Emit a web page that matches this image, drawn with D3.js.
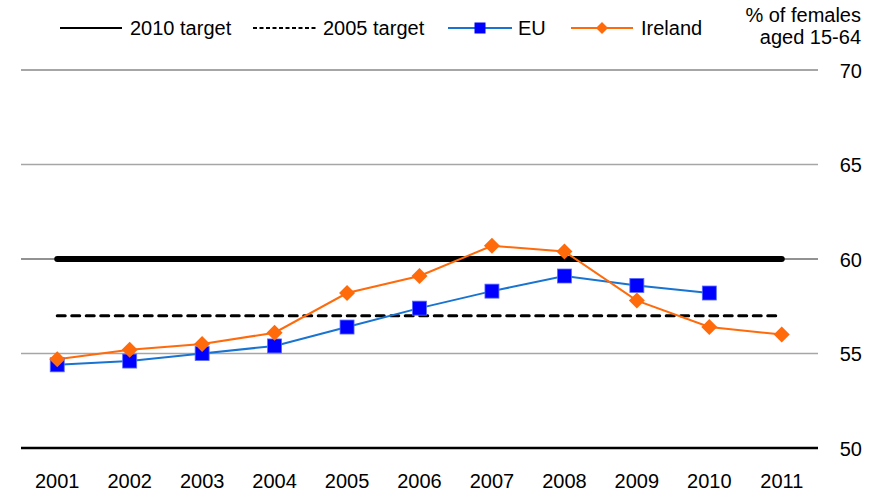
<!DOCTYPE html>
<html><head><meta charset="utf-8">
<script src="https://cdn.jsdelivr.net/npm/d3@7"></script>
<style>
body{margin:0;background:#fff;}
text{font-family:"Liberation Sans",Arial,sans-serif;fill:#000;}
</style></head>
<body>
<svg id="c" width="885" height="493"></svg>
<script>
const years = ["2001","2002","2003","2004","2005","2006","2007","2008","2009","2010","2011"];
const euValues = [54.4, 54.6, 55.0, 55.4, 56.4, 57.4, 58.3, 59.1, 58.6, 58.2, null];
const irelandValues = [54.7, 55.2, 55.5, 56.1, 58.2, 59.1, 60.7, 60.4, 57.8, 56.4, 56.0];
const target2010 = 60;
const target2005 = 57;
const yTicks = [50, 55, 60, 65, 70];
const yUnitLabel = ["% of females", "aged 15-64"];

const svg = d3.select("#c");
const pLeft = 21, pRight = 818, pTop = 70, pBottom = 448;
const FS = "20px";
const x = d3.scaleBand().domain(years).range([pLeft, pRight]);
const xc = d => x(d) + x.bandwidth()/2;
const y = d3.scaleLinear().domain([50, 70]).range([pBottom, pTop]);

// gridlines
svg.append("g").selectAll("line").data(yTicks.filter(t => t !== 50)).join("line")
  .attr("x1", pLeft).attr("x2", pRight)
  .attr("y1", d => y(d)).attr("y2", d => y(d))
  .attr("stroke", d => d === 60 ? "#6e6e6e" : "#a6a6a6")
  .attr("stroke-width", d => d === 70 ? 2 : 1.5);

// right axis
const yAxis = d3.axisRight(y).tickValues(yTicks).tickSize(0).tickPadding(0);
const ga = svg.append("g").attr("transform", `translate(${pRight},0)`).call(yAxis);
ga.select(".domain").remove();
ga.selectAll("text").attr("x", 44).attr("text-anchor", "end").attr("dy", "0.35em")
  .style("font-size", FS).style("font-family", '"Liberation Sans",Arial,sans-serif');

// baseline axis
svg.append("line").attr("x1", pLeft).attr("x2", pRight).attr("y1", y(50)).attr("y2", y(50))
  .attr("stroke", "#000").attr("stroke-width", 2.5);

// x axis labels
const xAxis = d3.axisBottom(x).tickSize(0).tickPadding(0);
const gx = svg.append("g").attr("transform", `translate(0,${pBottom})`).call(xAxis);
gx.select(".domain").remove();
gx.selectAll("text").attr("y", 40).attr("dy", 0)
  .style("font-size", FS).style("font-family", '"Liberation Sans",Arial,sans-serif');

// unit label
svg.append("text").attr("x", 861).attr("y", 22).attr("text-anchor", "end").style("font-size", FS).text(yUnitLabel[0]);
svg.append("text").attr("x", 861).attr("y", 44).attr("text-anchor", "end").style("font-size", FS).text(yUnitLabel[1]);

// target lines
svg.append("line").attr("x1", xc(years[0])).attr("x2", xc(years[years.length-1]))
  .attr("y1", y(target2010)).attr("y2", y(target2010))
  .attr("stroke", "#000").attr("stroke-width", 6).attr("stroke-linecap", "round");
svg.append("line").attr("x1", xc(years[0])).attr("x2", xc(years[years.length-1]))
  .attr("y1", y(target2005)).attr("y2", y(target2005))
  .attr("stroke", "#000").attr("stroke-width", 3).attr("stroke-dasharray", "8,6.5").attr("stroke-linecap", "round");

// series
const line = d3.line().defined(d => d.v != null).x(d => xc(d.k)).y(d => y(d.v));
const euData = years.map((k, i) => ({k, v: euValues[i]}));
const irData = years.map((k, i) => ({k, v: irelandValues[i]}));

svg.append("path").datum(euData).attr("d", line).attr("fill", "none")
  .attr("stroke", "#1874d0").attr("stroke-width", 2);
svg.append("path").datum(irData).attr("d", line).attr("fill", "none")
  .attr("stroke", "#ff6a0a").attr("stroke-width", 2);

const sq = 14;
svg.append("g").selectAll("rect").data(euData.filter(d => d.v != null)).join("rect")
  .attr("x", d => xc(d.k) - sq/2).attr("y", d => y(d.v) - sq/2)
  .attr("width", sq).attr("height", sq).attr("fill", "#0000ff")
  .attr("stroke", "#5a6cff").attr("stroke-width", 0.8);

const dm = 8;
svg.append("g").selectAll("path").data(irData).join("path")
  .attr("d", d => { const cx = xc(d.k), cy = y(d.v); return `M${cx},${cy-dm}L${cx+dm},${cy}L${cx},${cy+dm}L${cx-dm},${cy}Z`; })
  .attr("fill", "#ff6a0a");

// legend
const lg = svg.append("g");
const ly = 28;
lg.append("line").attr("x1", 60).attr("x2", 122).attr("y1", ly).attr("y2", ly).attr("stroke", "#000").attr("stroke-width", 2);
lg.append("text").attr("x", 130).attr("y", ly + 7).style("font-size", FS).text("2010 target");
lg.append("line").attr("x1", 253).attr("x2", 318).attr("y1", ly).attr("y2", ly).attr("stroke", "#000").attr("stroke-width", 2).attr("stroke-dasharray", "4,2.5");
lg.append("text").attr("x", 323).attr("y", ly + 7).style("font-size", FS).text("2005 target");
lg.append("line").attr("x1", 448).attr("x2", 512).attr("y1", ly).attr("y2", ly).attr("stroke", "#1874d0").attr("stroke-width", 2);
lg.append("rect").attr("x", 480 - 5.5).attr("y", ly - 5.5).attr("width", 11).attr("height", 11).attr("fill", "#0000ff");
lg.append("text").attr("x", 518).attr("y", ly + 7).style("font-size", FS).text("EU");
lg.append("line").attr("x1", 571).attr("x2", 633).attr("y1", ly).attr("y2", ly).attr("stroke", "#ff6a0a").attr("stroke-width", 2);
lg.append("path").attr("d", `M602,${ly-6}L608,${ly}L602,${ly+6}L596,${ly}Z`).attr("fill", "#ff6a0a");
lg.append("text").attr("x", 641).attr("y", ly + 7).style("font-size", FS).text("Ireland");
</script>
</body></html>
